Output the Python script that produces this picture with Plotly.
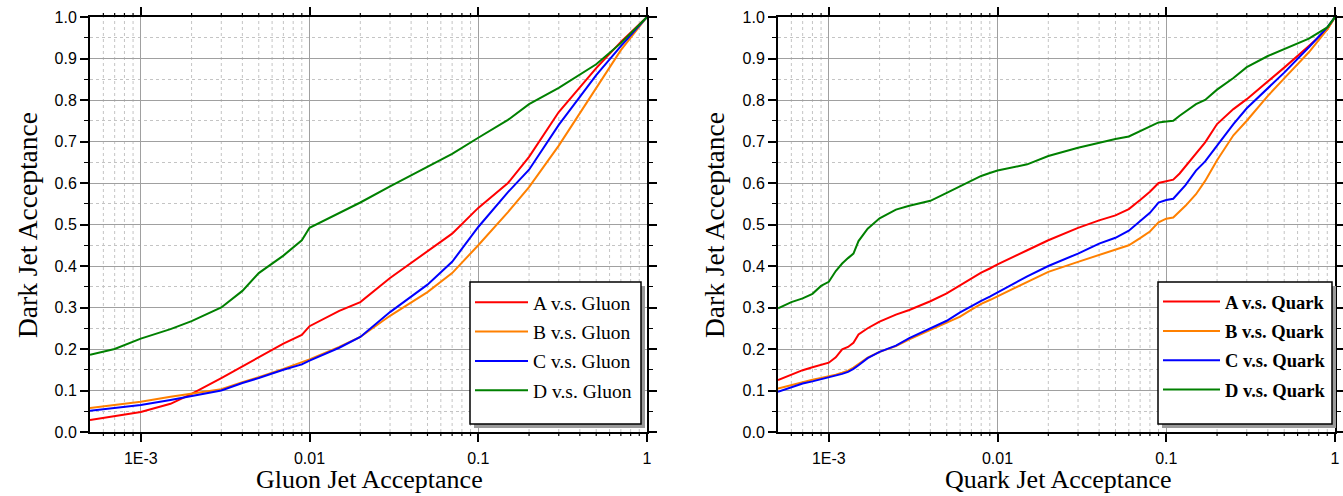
import plotly.graph_objects as go

# ---------------- data ----------------
x_gluon = [0.0005, 0.0007, 0.001, 0.0015, 0.002, 0.003, 0.004, 0.005, 0.007, 0.009,
           0.01, 0.015, 0.02, 0.03, 0.05, 0.07, 0.1, 0.15, 0.2, 0.3, 0.5, 0.7, 1.0]
a_gluon = [0.029, 0.038, 0.048, 0.068, 0.092, 0.130, 0.158, 0.179, 0.213, 0.234,
           0.255, 0.292, 0.313, 0.371, 0.435, 0.478, 0.540, 0.600, 0.663, 0.771, 0.877, 0.940, 1.0]
b_gluon = [0.058, 0.065, 0.073, 0.085, 0.093, 0.103, 0.120, 0.132, 0.152, 0.168,
           0.175, 0.205, 0.229, 0.280, 0.337, 0.383, 0.450, 0.530, 0.590, 0.690, 0.830, 0.920, 1.0]
c_gluon = [0.051, 0.057, 0.065, 0.077, 0.087, 0.100, 0.118, 0.130, 0.150, 0.163,
           0.172, 0.203, 0.229, 0.289, 0.355, 0.410, 0.494, 0.578, 0.632, 0.740, 0.860, 0.930, 1.0]
d_gluon = [0.186, 0.200, 0.225, 0.248, 0.267, 0.300, 0.340, 0.383, 0.425, 0.462,
           0.492, 0.527, 0.553, 0.592, 0.638, 0.670, 0.709, 0.752, 0.790, 0.829, 0.886, 0.937, 1.0]

x_quark = [0.0005, 0.0006, 0.0007, 0.0008, 0.0009, 0.001, 0.0011, 0.0012, 0.0013, 0.0014,
           0.0015, 0.0017, 0.002, 0.0025, 0.003, 0.004, 0.005, 0.006, 0.007, 0.008,
           0.009, 0.01, 0.015, 0.02, 0.03, 0.04, 0.05, 0.06, 0.07, 0.08,
           0.09, 0.1, 0.11, 0.12, 0.13, 0.15, 0.17, 0.2, 0.25, 0.3,
           0.4, 0.5, 0.7, 0.9, 1.0]
a_quark = [0.125, 0.138, 0.149, 0.156, 0.162, 0.167, 0.180, 0.199, 0.205, 0.215,
           0.235, 0.250, 0.266, 0.283, 0.294, 0.315, 0.334, 0.354, 0.369, 0.384,
           0.394, 0.404, 0.438, 0.462, 0.492, 0.510, 0.522, 0.537, 0.559, 0.579,
           0.600, 0.605, 0.608, 0.623, 0.640, 0.673, 0.698, 0.742, 0.778, 0.802,
           0.844, 0.878, 0.930, 0.970, 1.0]
b_quark = [0.105, 0.113, 0.121, 0.126, 0.130, 0.134, 0.138, 0.143, 0.148, 0.155,
           0.164, 0.179, 0.193, 0.207, 0.223, 0.246, 0.264, 0.278, 0.295, 0.309,
           0.318, 0.327, 0.360, 0.386, 0.410, 0.427, 0.440, 0.450, 0.467, 0.483,
           0.505, 0.514, 0.517, 0.531, 0.545, 0.573, 0.605, 0.655, 0.715, 0.750,
           0.810, 0.852, 0.915, 0.970, 1.0]
c_quark = [0.097, 0.108, 0.117, 0.122, 0.127, 0.131, 0.135, 0.140, 0.145, 0.152,
           0.161, 0.178, 0.193, 0.208, 0.226, 0.250, 0.268, 0.288, 0.304, 0.316,
           0.326, 0.336, 0.375, 0.400, 0.430, 0.454, 0.468, 0.485, 0.508, 0.528,
           0.553, 0.559, 0.562, 0.578, 0.595, 0.630, 0.652, 0.690, 0.742, 0.780,
           0.828, 0.866, 0.927, 0.975, 1.0]
d_quark = [0.298, 0.313, 0.322, 0.333, 0.352, 0.362, 0.388, 0.406, 0.419, 0.430,
           0.460, 0.490, 0.515, 0.536, 0.545, 0.557, 0.576, 0.592, 0.605, 0.617,
           0.624, 0.630, 0.645, 0.665, 0.685, 0.697, 0.706, 0.712, 0.725, 0.737,
           0.746, 0.748, 0.750, 0.762, 0.772, 0.790, 0.800, 0.825, 0.853, 0.879,
           0.906, 0.922, 0.948, 0.975, 1.0]

colors = ["#ff0000", "#ff8000", "#0000ff", "#008000"]
gluon_names = ["A v.s. Gluon", "B v.s. Gluon", "C v.s. Gluon", "D v.s. Gluon"]
quark_names = ["A v.s. Quark", "B v.s. Quark", "C v.s. Quark", "D v.s. Quark"]

xtick_vals = [0.001, 0.01, 0.1, 1]
xtick_text = ["1E-3", "0.01", "0.1", "1"]
minor_x = [m * 10.0 ** e for e in range(-4, 0) for m in range(2, 10) if m * 10.0 ** e > 0.0005]

W, H = 1343, 496
PLOT_TOP, PLOT_BOTTOM = 17, 432
PLOT_H = PLOT_BOTTOM - PLOT_TOP


def px_x(p):
    return p / W


def px_y(p):
    return 1 - p / H


fig = go.Figure()

for i, (ys, nm) in enumerate(zip([a_gluon, b_gluon, c_gluon, d_gluon], gluon_names)):
    fig.add_trace(go.Scatter(x=x_gluon, y=ys, name=nm, mode="lines",
                             line=dict(color=colors[i], width=2),
                             xaxis="x", yaxis="y", legend="legend",
                             legendgroup="g%d" % i))
for i, (ys, nm) in enumerate(zip([a_quark, b_quark, c_quark, d_quark], quark_names)):
    fig.add_trace(go.Scatter(x=x_quark, y=ys, name=nm, mode="lines",
                             line=dict(color=colors[i], width=2),
                             xaxis="x2", yaxis="y2", legend="legend2",
                             legendgroup="q%d" % i))

tickfont = dict(family="Liberation Sans, Arial, sans-serif", size=16, color="black")
major_grid = "#a0a0a0"
minor_grid = "#c4c4c4"
DASH = "3px,3px"
LOGRANGE = [-3.30103, 0]


def xaxis_cfg(domain, anchor):
    return dict(
        type="log", domain=domain, anchor=anchor, range=LOGRANGE,
        tickmode="array", tickvals=xtick_vals, ticktext=xtick_text,
        ticks="outside", ticklen=8, tickwidth=1.5, tickcolor="black",
        showline=True, linecolor="black", linewidth=2, mirror="ticks",
        showgrid=True, gridcolor=major_grid, gridwidth=1,
        zeroline=False, tickfont=tickfont, automargin=False,
        ticklabelstandoff=3,
    )


def yaxis_cfg(domain, anchor):
    return dict(
        domain=domain, anchor=anchor, range=[0, 1],
        tickmode="linear", tick0=0, dtick=0.1, tickformat=".1f",
        ticks="outside", ticklen=8, tickwidth=1.5, tickcolor="black",
        showline=True, linecolor="black", linewidth=2, mirror="ticks",
        showgrid=True, gridcolor=major_grid, gridwidth=1,
        zeroline=False, tickfont=tickfont, automargin=False,
        minor=dict(dtick=0.05, ticks="outside", ticklen=4, tickwidth=1.2,
                   tickcolor="black", showgrid=True, gridcolor=minor_grid,
                   griddash=DASH, gridwidth=1),
    )


ydom = [px_y(PLOT_BOTTOM), px_y(PLOT_TOP)]
serif = "Liberation Serif, Times New Roman, serif"

fig.update_layout(
    width=W, height=H,
    margin=dict(l=0, r=0, t=0, b=0),
    paper_bgcolor="white", plot_bgcolor="white",
    xaxis=xaxis_cfg([px_x(90), px_x(647)], "y"),
    yaxis=yaxis_cfg(ydom, "x"),
    xaxis2=xaxis_cfg([px_x(778), px_x(1335)], "y2"),
    yaxis2=yaxis_cfg(ydom, "x2"),
    legend=dict(x=px_x(470), y=px_y(283), xanchor="left", yanchor="top",
                bgcolor="rgba(0,0,0,0)", borderwidth=0, itemwidth=53,
                tracegroupgap=1,
                font=dict(family=serif, size=19.5, color="black")),
    legend2=dict(x=px_x(1158), y=px_y(283), xanchor="left", yanchor="top",
                 bgcolor="rgba(0,0,0,0)", borderwidth=0, itemwidth=57,
                 tracegroupgap=2.3,
                 font=dict(family=serif, size=18.5, color="black", weight="bold")),
    showlegend=True,
)

# minor log gridlines (dashed) and minor ticks on bottom/top edges
tick_frac = 4 / PLOT_H
for xr, yr in [("x", "y domain"), ("x2", "y2 domain")]:
    for v in minor_x:
        fig.add_shape(type="line", xref=xr, yref=yr, x0=v, x1=v, y0=0, y1=1,
                      line=dict(color=minor_grid, width=1, dash=DASH), layer="below")
        fig.add_shape(type="line", xref=xr, yref=yr, x0=v, x1=v, y0=0, y1=-tick_frac,
                      line=dict(color="black", width=1.2), layer="above")
        fig.add_shape(type="line", xref=xr, yref=yr, x0=v, x1=v, y0=1, y1=1 + tick_frac,
                      line=dict(color="black", width=1.2), layer="above")

# legend frames with drop shadows
for (x0, x1) in [(470, 641), (1158, 1332)]:
    fig.add_shape(type="rect", xref="paper", yref="paper",
                  x0=px_x(x0 + 4), x1=px_x(x1 + 4), y0=px_y(428), y1=px_y(286),
                  fillcolor="#9a9a9a", line=dict(width=0), layer="above")
    fig.add_shape(type="rect", xref="paper", yref="paper",
                  x0=px_x(x0), x1=px_x(x1), y0=px_y(424), y1=px_y(282),
                  fillcolor="white", line=dict(width=1.5, color="black"), layer="above")

xtitlefont = dict(family=serif, size=26, color="black")
ytitlefont = dict(family=serif, size=27.5, color="black")
fig.add_annotation(text="Gluon Jet Acceptance", x=px_x(370), y=0, xref="paper", yref="paper",
                   showarrow=False, font=xtitlefont, xanchor="center", yanchor="bottom")
fig.add_annotation(text="Quark Jet Acceptance", x=px_x(1058), y=0, xref="paper", yref="paper",
                   showarrow=False, font=xtitlefont, xanchor="center", yanchor="bottom")
fig.add_annotation(text="Dark Jet Acceptance", x=px_x(27), y=px_y(225), xref="paper", yref="paper",
                   showarrow=False, font=ytitlefont, textangle=-90, xanchor="center", yanchor="middle")
fig.add_annotation(text="Dark Jet Acceptance", x=px_x(714), y=px_y(225), xref="paper", yref="paper",
                   showarrow=False, font=ytitlefont, textangle=-90, xanchor="center", yanchor="middle")

fig.write_html("out.html")
